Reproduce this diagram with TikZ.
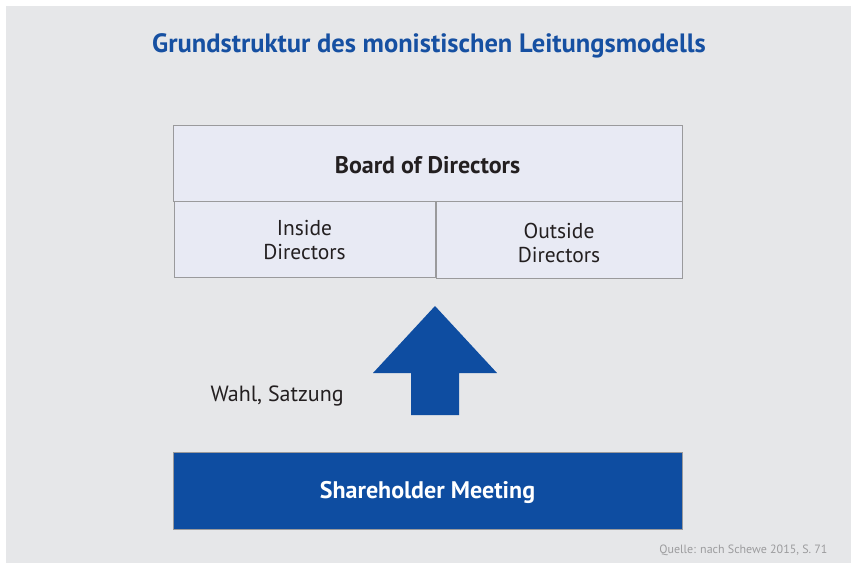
\documentclass[tikz,border=0pt]{standalone}
\usepackage{fontspec}
\setmainfont{PT Sans}
\usetikzlibrary{positioning}
\definecolor{panelgray}{HTML}{E6E7E9}
\definecolor{boxfill}{HTML}{E8EAF4}
\definecolor{boxline}{HTML}{9A9A9C}
\definecolor{mainblue}{HTML}{0E4DA1}
\definecolor{titleblue}{HTML}{1650A2}
\definecolor{inkdark}{HTML}{231F20}
\definecolor{notegray}{HTML}{9C9C9E}
\tikzset{
  x=1pt, y=-1pt,
  lightbox/.style={draw=boxline, line width=1pt, fill=boxfill, inner sep=0pt},
  label text/.style={text=inkdark, font=\fontsize{21.5}{24}\selectfont, align=center},
  bold text/.style={text=inkdark, font=\fontsize{24}{26}\selectfont\bfseries},
}
\begin{document}
\begin{tikzpicture}
\useasboundingbox (0,0) rectangle (851,563);
\fill[white] (0,0) rectangle (851,563);
\fill[panelgray] (6,6) rectangle (851,563);

% title
\node[text=titleblue, font=\fontsize{26.5}{30}\selectfont\bfseries] (title) at (429,46) {Grundstruktur des monistischen Leitungsmodells};

% board of directors
\draw[lightbox] (173,125) rectangle (682,201);
\node[bold text] (board) at (427.5,165) {Board of Directors};
\draw[lightbox] (174,201) rectangle (435,277);
\node[label text] (inside) at (304.5,240) {Inside\\Directors};
\draw[lightbox] (436,201) rectangle (682,278);
\node[label text] (outside) at (559,243) {Outside\\Directors};

% upward arrow
\fill[mainblue] (435,306) -- (497,373) -- (459,373) -- (459,415) -- (411,415) -- (411,373) -- (373,373) -- cycle;
\coordinate (arrowtip) at (435,306);
\node[label text, anchor=west] (wahl) at (207,396) {\fontsize{22}{26}\selectfont Wahl, Satzung};

% shareholder meeting
\draw[draw=boxline, line width=1pt, fill=mainblue] (173,452) rectangle (682,529);
\node[text=white, font=\fontsize{24}{26}\selectfont\bfseries] (share) at (427.5,492) {Shareholder Meeting};

% source note
\node[text=notegray, font=\fontsize{12}{14}\selectfont, anchor=east] (source) at (831,550) {Quelle: nach Schewe 2015, S. 71};
\end{tikzpicture}
\end{document}
